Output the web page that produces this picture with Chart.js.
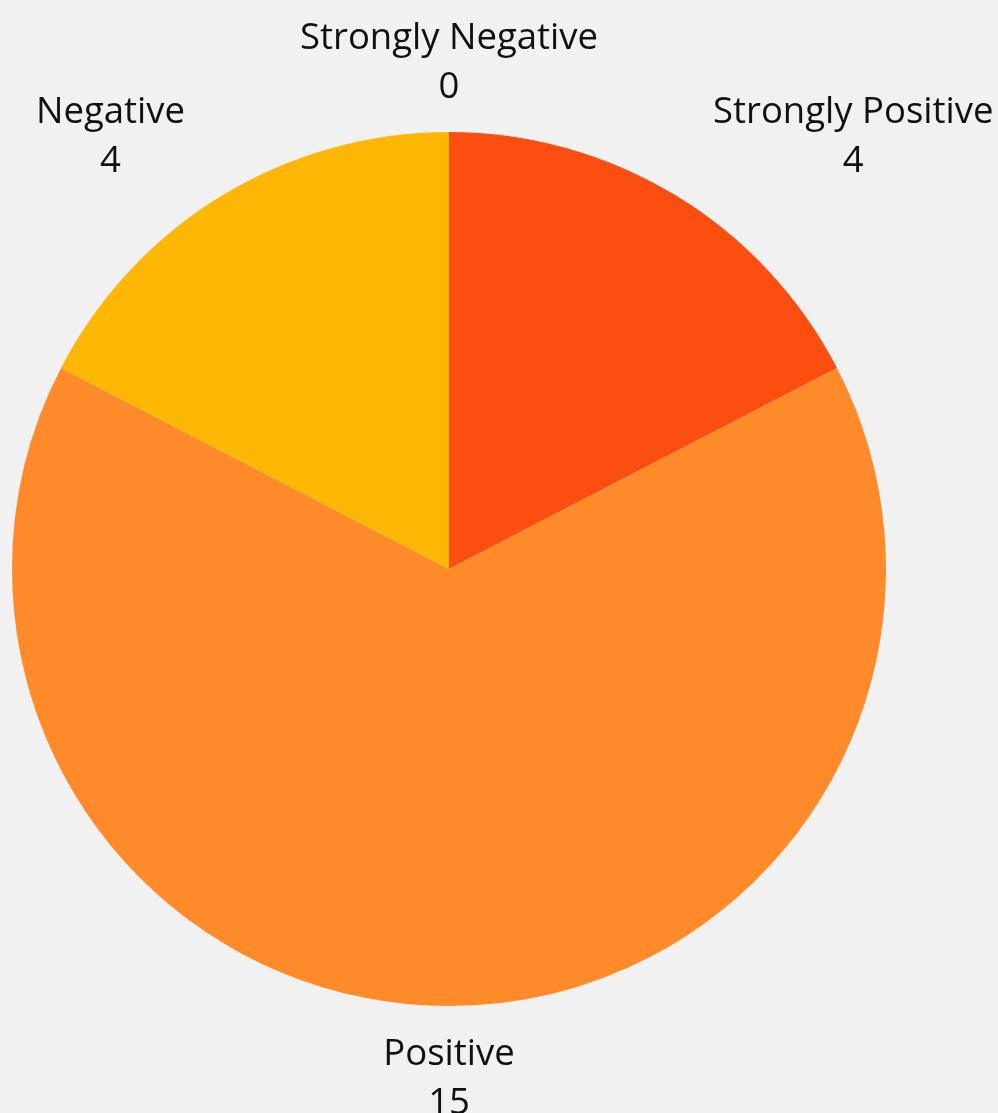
<!DOCTYPE html>
<html>
<head>
<meta charset="utf-8">
<script src="https://cdn.jsdelivr.net/npm/chart.js@4"></script>
<style>
  html, body { margin: 0; padding: 0; background: #f1f1f1; }
  #wrap { width: 998px; height: 1113px; }
</style>
</head>
<body>
<div id="wrap"><canvas id="sentimentChart"></canvas></div>
<script>
// sentiment counts, clockwise from the top
const labels = ['Strongly Positive', 'Positive', 'Negative', 'Strongly Negative'];
const counts = [4, 15, 4, 0];
const colors = ['#fc4e11', '#ff8a2a', '#ffb705', '#e0e0e0'];

const LABEL_FONT = '36.5px "Open Sans"';
const LINE_H = 49;

// draws "name / value" outside each slice
const outerLabels = {
  id: 'outerLabels',
  afterDraw(chart) {
    const ctx = chart.ctx;
    const arcs = chart.getDatasetMeta(0).data;
    ctx.save();
    ctx.font = LABEL_FONT;
    ctx.fillStyle = '#111';
    ctx.textBaseline = 'middle';
    arcs.forEach((arc, i) => {
      const p = arc.getProps(['x', 'y', 'startAngle', 'endAngle', 'outerRadius'], true);
      const mid = (p.startAngle + p.endAngle) / 2;
      const r = p.outerRadius + 71;
      const ax = p.x + r * Math.cos(mid);
      const ay = p.y + r * Math.sin(mid) + 2;
      const lines = [labels[i], String(counts[i])];
      const w = Math.max(...lines.map(t => ctx.measureText(t).width));
      let cx = ax;
      const c = Math.cos(mid);
      if (c > 0.05) cx = ax + w / 2;
      else if (c < -0.05) cx = ax - w / 2;
      ctx.textAlign = 'center';
      lines.forEach((t, j) => {
        ctx.fillText(t, cx, ay + (j - (lines.length - 1) / 2) * LINE_H);
      });
    });
    ctx.restore();
  }
};

new Chart(document.getElementById('sentimentChart'), {
  type: 'pie',
  data: {
    labels: labels,
    datasets: [{
      data: counts,
      backgroundColor: colors,
      borderWidth: 0
    }]
  },
  options: {
    responsive: true,
    maintainAspectRatio: false,
    animation: false,
    layout: { padding: { left: 12, right: 112, top: 132, bottom: 107 } },
    plugins: {
      legend: { display: false },
      tooltip: { enabled: false }
    }
  },
  plugins: [outerLabels]
});
</script>
</body>
</html>
